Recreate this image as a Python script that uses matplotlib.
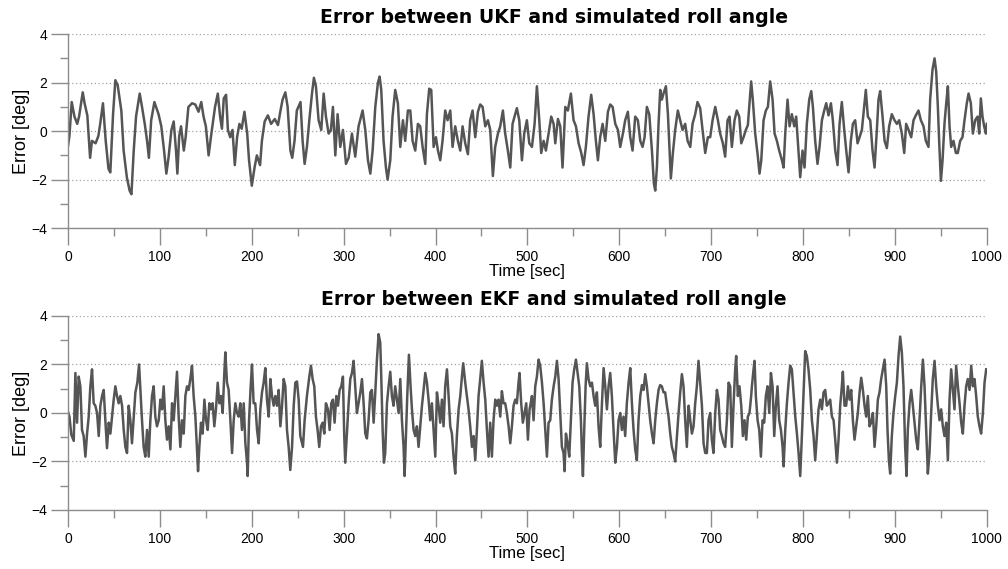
import matplotlib.pyplot as plt
from matplotlib.ticker import MultipleLocator

# values (time in s, error in deg)
ukf_time = [
    # 0 - 253 s
    0, 1.5, 4, 7, 10, 12, 16, 18, 21, 24,
    26, 30, 33, 35, 38, 41, 44, 46, 49, 51.5,
    54, 58, 60.5, 64, 67, 69, 71.5, 74, 78, 80.5,
    83.5, 86, 88, 90.5, 94, 98.5, 101.5, 104.5, 107, 109.5,
    112.5, 115, 117.5, 119, 121, 123, 126, 128, 131, 135,
    138.5, 142, 145, 147.5, 150, 153, 156, 158.5, 160, 163,
    165.5, 167.5, 169.5, 172, 174, 176.5, 179, 181.5, 184, 186.5,
    189, 192, 195, 197, 200, 203, 205.5, 209, 211, 214,
    217.5, 221, 225, 228.5, 231, 233.5, 236.5, 239, 242, 244,
    246.5, 249, 253,
    # 255 - 502 s
    255.3, 257.5, 260, 262.6, 265.5, 267.6, 269.8, 272.7, 275.6, 278.2,
    280.7, 283.6, 286.1, 288.3, 290.9, 293.4, 296.3, 299.2, 302.5, 305.4,
    309, 312.6, 316.2, 320.6, 323.5, 326.4, 329, 331.5, 334.4, 337.3,
    339.1, 340.9, 343.4, 346, 347.8, 350.7, 353.2, 356.1, 359, 361.6,
    364.5, 367, 369.9, 372.5, 375, 377.9, 380.8, 383.3, 385.9, 388.8,
    390.6, 393.1, 395.3, 397.9, 400.4, 402.6, 405.1, 407.6, 410.5, 413.1,
    416, 418.5, 421.4, 424.3, 426.9, 429.4, 432.3, 435.2, 437.7, 440.3,
    443.2, 446.1, 448.6, 451.2, 454.1, 457, 459.5, 462.4, 464.9, 467.9,
    470.4, 473.3, 475.8, 478.7, 481.3, 483.8, 486, 488.5, 491.1, 494,
    496.5, 499.4, 502,
    # 505 - 748 s
    504.9, 507.8, 510.3, 512.9, 515, 517.6, 520.1, 523, 525.9, 528.5,
    530.3, 533.2, 535.7, 538.2, 541.2, 544, 547.3, 550.2, 552.8, 555.7,
    558.6, 561.1, 563.6, 566.5, 569.4, 572, 574.5, 576.7, 579.2, 581.8,
    584.7, 587.6, 590.1, 592.7, 595.6, 598.5, 601, 603.9, 606.4, 609.3,
    611.9, 614.4, 617.3, 620.2, 622.8, 625.3, 627.5, 630, 632.6, 635.5,
    637.6, 639.1, 640.9, 642.7, 644.5, 646.3, 648.1, 650.7, 652.9, 654.7,
    656.1, 658.3, 660.8, 663.7, 666.3, 668.8, 671.7, 674.3, 677.2, 679.7,
    682.6, 685.1, 688, 690.6, 693.5, 696.4, 698.9, 701.5, 704.4, 707.3,
    709.8, 712.7, 715.2, 717.8, 720, 722.5, 725.4, 727.9, 730.5, 732.7,
    735.2, 737.7, 739.9, 741.7, 743.5, 745.3, 747.9,
    # 751 - 1000 s
    750.8, 752.6, 754.5, 757, 759.5, 761.7, 764.2, 766.8, 769, 771.5,
    774, 777, 778.8, 780.6, 783.1, 785.3, 787.8, 790.4, 792.5, 795.1,
    796.9, 799.4, 801.6, 804.1, 806.7, 808.9, 810.7, 813.2, 815.7, 817.9,
    820.5, 823, 825.2, 827.7, 830.3, 832.4, 835, 837.5, 839.7, 842.2,
    844.8, 847, 849.5, 852, 854.2, 856.7, 859.3, 861.5, 864, 866.5,
    868.3, 870.5, 873.1, 875.6, 877.8, 880.3, 882.1, 883.9, 886.5, 888.7,
    891.2, 893.7, 896.6, 899.5, 902.1, 904.6, 907.5, 910.1, 912.2, 914.8,
    917.7, 920.2, 922.7, 925.6, 928.2, 931.1, 933.6, 936.5, 938.3, 940.9,
    943.1, 944.9, 946.7, 948.1, 950, 951.8, 953.9, 955.8, 957.6, 959.4,
    961.2, 963.7, 966.3, 968.4, 971, 973.5, 975.7, 978.2, 980.1, 982.6,
    984.8, 987.3, 989.9, 991.7, 993.5, 995.3, 997.1, 999, 1000,
]
ukf_error = [
    -0.6, -0.2, 1.2, 0.6, 0.3, 0.6, 1.6, 1.15, 0.65, -1.1,
    -0.4, -0.5, -0.2, 0.3, 1.15, -0.4, -1.55, -1.7, 0.7, 2.1,
    1.9, 0.85, -0.8, -1.9, -2.45, -2.6, -0.8, 0.6, 1.55, 1.0,
    0.3, -0.4, -1.1, 0.45, 1.2, 0.7, 0.2, -0.8, -1.75, -1.05,
    0.05, 0.4, -0.8, -1.75, -0.2, 0.2, -0.8, -0.25, 1.0, 1.15,
    1.1, 0.8, 1.2, 0.6, 0.2, -1.0, -0.1, 0.6, 1.0, 1.55,
    0.6, 0.1, 1.35, 1.5, 0.05, -0.25, 0.05, -1.4, -0.25, 0.3,
    0.1, 0.8, -0.1, -1.2, -2.25, -1.5, -1.0, -1.4, -0.4, 0.4,
    0.65, 0.3, 0.5, 0.25, 0.8, 1.3, 1.6, 1.0, -0.8, -1.1,
    -0.4, 0.85, 1.2,
    -0.4, -1.35, -0.65, 0.45, 1.55, 2.2, 1.85, 0.45, 0.05, 1.55,
    0.6, -0.1, 0.05, 1.0, -1.0, 0.7, -0.65, 0.05, -1.35, -1.1,
    -0.1, -1.05, 0.2, 0.85, 0.05, -1.2, -1.75, -0.8, 1.0, 2.0,
    2.25, 1.7, -0.4, -1.5, -2.0, -1.2, 0.6, 1.7, 1.15, -0.65,
    0.45, -0.4, 0.85, 0.85, -0.4, -0.8, 0.3, 0.2, -0.65, -1.35,
    0.7, 1.75, 1.7, -0.65, -0.25, -0.8, -1.2, -0.4, 0.85, 0.45,
    0.85, -0.65, 0.2, -0.4, -0.8, 0.2, -0.5, -0.95, 0.45, 0.85,
    -0.25, 0.8, 1.1, 1.0, 0.2, 0.45, 0.05, -1.85, -0.65, -0.1,
    0.2, 0.85, -0.1, -0.8, -1.5, 0.3, 0.6, 0.95, 0.45, -1.2,
    -0.1, 0.45, -0.5,
    -0.65, 0.3, 1.85, 0.45, -0.9, -0.4, -0.8, -0.1, 0.6, 0.3,
    -0.5, 0.5, 0.2, -1.5, 1.0, 0.85, 1.55, 0.45, 0.2, -0.5,
    -0.9, -1.4, -0.65, 0.6, 1.5, 0.7, -0.4, -1.2, -0.25, 0.3,
    -0.4, 0.8, 1.1, 1.0, 0.3, 0.05, -0.65, -0.1, 0.45, 0.8,
    -0.25, -0.8, 0.6, 0.45, -0.4, -0.65, -0.25, 1.0, 0.7, -0.8,
    -2.15, -2.45, -1.5, 0.3, 1.7, 1.3, 1.55, 1.85, 0.7, -0.8,
    -1.95, -0.9, 0.05, 0.85, 0.45, 0.05, 0.3, -0.4, -0.65, 0.3,
    0.7, 1.2, 0.95, 0.05, -0.9, -0.25, -0.25, 0.45, 1.0, 0.45,
    -0.1, -0.5, -1.05, 0.45, 0.6, -0.65, 0.45, 0.85, 0.6, -0.5,
    -0.25, 0.05, 0.25, 1.15, 2.05, 1.3, -0.1,
    -1.05, -1.75, -1.2, 0.45, 0.85, 1.0, 2.05, 1.3, -0.1, -0.4,
    -0.8, -1.2, -1.5, -0.1, 1.3, 0.2, 0.7, 0.2, 0.6, -0.9,
    -1.9, -0.8, -1.5, 0.3, 1.3, 1.65, 1.0, -0.4, -1.35, -0.65,
    0.45, 0.85, 1.15, 0.65, 1.15, 0.45, -0.8, -1.4, 0.3, 1.2,
    0.05, -0.8, -1.7, -0.4, 0.3, 0.45, -0.5, -0.25, 0.05, 1.0,
    1.7, 0.6, 0.45, -0.8, -1.5, 0.05, 1.3, 1.65, 0.6, -0.4,
    -0.7, 0.2, 0.7, 0.45, 0.3, 0.45, -0.1, -0.9, 0.3, 0.05,
    -0.25, 0.45, 0.65, 0.85, 0.45, 0.2, -0.4, -0.65, 1.3, 2.55,
    3.0, 2.45, 1.0, -0.4, -2.05, -1.2, 0.3, 1.15, 1.85, 0.2,
    -0.65, -0.4, -0.9, -0.9, -0.4, -0.25, 0.45, 1.15, 1.55, 1.15,
    -0.1, 0.45, 0.6, -0.1, 1.35, 0.6, 0.2, -0.1, 0.3,
]

ekf_time = [
    # 0 - 253 s
    0, 1.5, 3.6, 6.2, 8, 9.8, 11.6, 13.4, 15.2, 17,
    18.9, 20.7, 22.5, 24.3, 26.1, 27.9, 29.7, 31.6, 33.4, 35.2,
    37, 38.8, 40.6, 42.4, 44.3, 46.1, 47.9, 49.7, 51.5, 53.3,
    55.1, 56.9, 58.8, 60.6, 62.4, 64.2, 66, 67.8, 69.6, 71.5,
    73.3, 75.4, 77.3, 79.1, 80.5, 82.3, 84.1, 86, 87.8, 89.6,
    91.4, 93.2, 95, 96.8, 98.7, 100.5, 102.3, 104.1, 105.9, 107.7,
    109.5, 111.4, 113.2, 115, 116.8, 118.6, 120.4, 122.2, 124, 125.9,
    127.7, 129.5, 131.3, 133.1, 134.9, 136.7, 138.6, 140.4, 141.5, 142.9,
    144.7, 146.5, 148.4, 150.2, 152, 153.8, 155.6, 157.4, 159.2, 161,
    162.9, 164.7, 166.5, 168.3, 170.1, 171.2, 173, 174.8, 176.7, 178.5,
    180.3, 182.1, 183.9, 185.7, 187.5, 189.3, 191.2, 193, 194.8, 195.5,
    197, 198.8, 200.2, 202, 203.8, 205.7, 207.5, 209.3, 211.1, 212.9,
    214.7, 216.5, 218.4, 220.2, 222, 223.8, 225.6, 227.4, 229.2, 231.1,
    232.9, 234.7, 236.5, 238.3, 240.1, 241.9, 243.8, 245.6, 247.4, 249.2,
    251, 252.8,
    # 256 - 502 s
    255.7, 257.5, 260, 262.6, 264.4, 266.2, 268, 269.8, 271.6, 273.4,
    275.3, 277.1, 278.9, 280.7, 282.9, 284.7, 286.5, 288.3, 290.1, 292,
    293.8, 295.6, 297.4, 299.2, 300.6, 301.7, 303.5, 305.4, 307.2, 309,
    310.8, 312.6, 314.4, 316.2, 318.1, 319.9, 321.7, 323.5, 325.3, 327.1,
    329, 330.7, 332.6, 334.4, 336.2, 338, 339.8, 340.9, 342.4, 343.8,
    345.2, 347.1, 348.9, 350.7, 352.5, 354.3, 356.1, 358, 359.8, 361.6,
    363.4, 365.2, 366.3, 367.7, 369.2, 371, 372.8, 374.3, 376.1, 377.9,
    379.7, 381.5, 383.3, 385.2, 387, 388.8, 390.6, 392.4, 394.2, 396,
    397.9, 399.7, 401.5, 403.3, 405.1, 406.9, 408.7, 410.5, 412.4, 414.2,
    416, 417.8, 419.6, 421.4, 423.2, 425.1, 426.9, 428.7, 430.1, 432.3,
    434.1, 435.9, 437.7, 439.6, 441.4, 443.2, 445, 446.8, 448.6, 450.4,
    452.3, 454.1, 455.9, 457.7, 459.5, 461.3, 463.1, 465, 466.8, 468.6,
    470.4, 472.2, 474, 475.8, 477.6, 479.5, 481.3, 483.1, 484.9, 486.7,
    488.5, 490.3, 491.4, 493.2, 495, 496.9, 498.7, 500.5, 502.3,
    # 503 - 744 s
    503.1, 504.9, 506.7, 508.5, 510.3, 512.1, 513.9, 515.8, 517.6, 519.4,
    521.2, 523, 524.8, 526.6, 528.5, 530.3, 532.1, 533.9, 535.7, 537.5,
    539.3, 540.4, 541.9, 543.7, 545.5, 547.3, 549.1, 550.9, 552.8, 554.6,
    556.4, 558.2, 559.3, 560.4, 561.8, 563.3, 564.7, 566.5, 568.4, 570.2,
    572, 573.8, 575.6, 577.4, 579.2, 581, 582.9, 584.7, 586.5, 588.3,
    590.1, 591.9, 593.7, 595.6, 597.4, 599.2, 601, 602.8, 604.6, 606.4,
    608.2, 610.1, 611.9, 613.7, 615.5, 617.3, 619.1, 620.9, 622.8, 624.6,
    626.4, 628.2, 630, 631.8, 633.6, 635.5, 637.3, 639.1, 640.9, 642.7,
    644.5, 646.3, 648.1, 649.9, 651.8, 653.6, 655.4, 657.2, 659, 660.8,
    662.7, 664.5, 666.3, 668.1, 669.9, 671.7, 673.5, 675.4, 677.2, 679,
    680.8, 682.6, 684.4, 686.2, 688, 689.9, 691.7, 693.5, 695.3, 697.1,
    698.9, 700.7, 702.5, 704.4, 706.2, 708, 709.8, 711.6, 713.4, 715.2,
    717.1, 718.9, 720.7, 722.5, 724.3, 726.1, 727.2, 729, 730.8, 732.7,
    734.5, 736.3, 738.1, 739.9, 741.7, 743.5,
    # 744 - 1000 s
    744.3, 746.1, 747.2, 748.6, 750.5, 752.3, 754.1, 755.9, 757.7, 759.5,
    761.3, 763.2, 765, 766.8, 768.6, 770.4, 772.2, 774, 775.9, 777.7,
    778.8, 780.6, 782.4, 784.2, 786, 787.8, 789.6, 791.5, 793.3, 795.1,
    796.9, 798.7, 800.5, 802.3, 804.1, 805.9, 807.8, 809.6, 811.4, 813.2,
    815, 816.8, 818.7, 820.5, 822.3, 824.1, 825.9, 827.7, 829.5, 831.4,
    833.2, 835, 836.8, 838.6, 840.4, 842.2, 843.3, 845.1, 846.9, 848.8,
    850.6, 852.4, 854.2, 856, 857.8, 859.6, 861.5, 863.3, 865.1, 866.9,
    868.7, 870.5, 872.3, 874.1, 876, 877.8, 879.6, 881.4, 883.2, 885,
    886.8, 888.7, 890.5, 891.9, 893.4, 894.8, 896.6, 898.4, 900.3, 902.1,
    903.9, 905.7, 907.5, 909.3, 911.1, 912.6, 914, 915.9, 917.7, 919.5,
    921.3, 923.1, 924.9, 926.7, 928.6, 930.4, 932.2, 934, 935.8, 937.6,
    939.4, 941.2, 943.1, 944.9, 946.7, 948.5, 950.3, 952.1, 953.9, 955.8,
    957.6, 959.4, 961.2, 963, 964.8, 966.6, 968.5, 970.3, 972.1, 973.9,
    975.7, 977.5, 979.3, 981.2, 983, 984.8, 986.6, 988.4, 990.2, 992,
    993.8, 995.7, 997.5, 999.3,
]
ekf_error = [
    0.05, -0.15, -0.9, -1.15, 1.65, -0.4, 1.5, 1.1, -0.7, -0.95,
    -1.8, -0.85, -0.15, 1.1, 1.8, 0.4, 0.3, 0.0, -0.95, 0.3,
    0.7, 0.95, -0.3, -1.45, -0.4, -0.85, -0.15, 0.55, 1.1, 0.7,
    0.4, 0.7, 0.3, -0.7, -1.4, -1.65, 0.3, -0.3, -1.25, -0.15,
    0.85, 1.25, 2.0, 0.7, -0.3, -1.4, -1.8, -0.7, -1.8, -0.3,
    0.7, 1.1, -0.15, -0.55, -0.3, 0.55, 0.15, 1.1, -0.3, -1.1,
    -0.55, -1.5, 0.4, -0.3, 0.7, 1.7, -0.15, -1.4, -0.3, -0.85,
    0.7, 1.1, 0.95, 1.4, 1.95, 0.7, -0.15, -1.5, -2.4, -1.4,
    -0.4, -0.85, 0.55, -0.3, -0.7, 0.4, 0.15, 0.4, -0.55, 0.15,
    1.25, 0.4, 0.7, 0.0, 1.65, 2.5, 1.25, 0.95, -0.3, -1.65,
    -0.3, 0.4, 0.0, -0.15, 0.4, -0.7, 0.4, -1.25, -2.05, -2.6,
    -0.3, 1.1, 2.0, 0.4, 0.4, -0.7, -1.25, 0.15, 0.85, 1.25,
    1.85, 0.55, -0.15, 1.4, 0.7, 0.3, 0.7, 0.3, 0.95, -0.55,
    0.3, 1.4, 1.1, -0.7, -1.4, -2.35, -1.4, 0.3, 1.25, 1.3,
    0.55, -0.95,
    -1.4, -0.3, 0.7, 1.5, 1.95, 1.4, 1.1, -0.15, -0.7, -1.4,
    -0.55, -0.4, -0.85, 0.4, 0.15, -0.7, 0.4, 0.55, -0.4, 0.7,
    0.3, 0.95, 1.1, 1.5, -0.95, -2.05, -0.85, 0.4, 1.4, 1.65,
    2.15, 1.1, 0.0, 0.4, 0.85, 1.4, 0.4, -0.85, -1.05, -0.3,
    0.85, 0.95, -0.4, 0.85, 2.2, 3.25, 2.9, 1.5, -0.7, -2.05,
    -1.65, 0.4, 1.1, 1.7, 0.7, 0.3, 1.1, 0.55, 0.0, 1.4,
    -0.3, -1.4, -2.6, -0.95, 0.7, 2.4, 1.1, 0.15, -0.7, -0.95,
    -0.55, -1.4, -0.55, 0.3, 0.95, 1.65, 1.25, 0.55, -0.3, 0.4,
    -0.7, -1.8, 0.85, 0.3, -0.4, 0.55, -0.55, 1.1, 1.8, 0.7,
    -0.55, -0.85, -1.8, -2.5, -0.95, 0.15, 0.7, 1.5, 2.05, 1.25,
    0.7, 0.15, -0.55, -1.4, -0.95, -1.95, -0.7, 0.7, 1.4, 2.15,
    1.25, 0.55, -0.7, -1.8, -0.4, -1.8, -0.3, 0.55, 0.3, 0.55,
    -0.15, 0.9, 0.4, 0.4, 0.0, -0.55, -1.25, -0.55, 0.3, 0.55,
    0.4, 1.25, 1.65, 0.4, -0.4, 0.0, 0.4, -1.1, 0.15,
    0.3, 0.7, -0.3, 1.1, 1.5, 2.2, 1.95, 1.25, 0.4, -0.7,
    -1.8, -0.4, -0.3, 0.55, 1.1, 1.5, 2.15, 1.4, 0.0, -1.4,
    -1.65, -2.4, -0.85, -1.25, -1.8, -0.3, 1.25, 1.8, 2.2, 1.65,
    1.1, -0.3, -1.65, -2.6, -0.7, 1.1, 2.05, 1.4, 1.1, 1.25,
    0.7, 0.3, 0.85, -0.55, -1.4, 0.3, 1.85, 1.1, 0.15, 1.1,
    1.65, 0.7, -0.7, -2.05, -1.4, -0.3, 0.0, -0.7, -0.15, -0.95,
    0.4, 1.25, 1.85, 0.4, -0.7, -1.5, -1.95, -0.3, 0.7, 1.15,
    0.95, 1.6, 1.1, 0.4, -0.3, -0.85, -1.25, -0.3, 0.4, 0.95,
    1.15, 1.1, 0.85, 0.85, 0.3, -0.15, -0.85, -1.4, -1.65, -2.0,
    -0.95, 0.0, 0.85, 1.6, 1.1, -0.3, -1.4, 0.3, -0.3, -0.85,
    -0.55, 0.4, 1.1, 2.15, 1.25, 0.3, -1.25, -1.65, -1.65, -0.3,
    0.0, -1.1, -1.65, 0.0, 0.95, 0.55, -0.7, -0.95, -1.25, -1.4,
    -0.3, 1.25, 1.1, -1.4, 0.3, 1.8, 2.35, 0.7, 1.1, 0.3,
    -0.95, -0.3, -1.1, -0.15, 0.0, 0.7,
    1.1, 1.8, 2.15, 0.7, -0.3, -0.7, -1.8, -0.3, -0.4, 0.7,
    1.1, 0.0, 1.65, 1.1, -0.95, 0.3, 1.1, -0.3, -0.7, -1.4,
    -2.2, -0.7, 0.4, 1.25, 1.95, 1.8, 0.85, -0.15, -0.85, -1.65,
    -2.6, -0.95, 0.85, 2.55, 2.35, 1.8, 0.95, -0.3, -0.95, -1.95,
    -0.95, 0.15, 0.55, 0.15, 0.85, 0.95, 0.3, 0.4, 0.55, -0.15,
    -0.3, -1.1, -2.05, -1.1, 0.3, 1.1, 1.7, 0.3, 0.3, 1.1,
    0.55, 0.95, -0.3, -1.1, -0.55, 0.0, 0.85, 1.45, 0.95, 0.3,
    -0.15, 0.7, -0.55, -0.4, 0.0, -1.4, -0.55, 0.55, 0.85, 1.4,
    1.8, 2.2, 1.1, -0.7, -1.95, -2.5, -0.95, 0.0, 0.7, 1.25,
    2.35, 3.15, 2.5, 1.1, -1.4, -2.6, -0.7, 0.4, 0.95, 0.3,
    -0.4, -1.1, -1.5, -0.3, 1.1, 2.2, 1.1, -0.7, -2.5, -1.65,
    0.0, 1.4, 2.15, 1.1, 0.3, -0.3, 0.15, -0.55, -0.95, -0.4,
    -1.95, 0.55, 1.8, 0.95, 0.15, 1.95, 1.1, 0.4, -0.4, -0.85,
    0.3, 1.1, 1.4, 0.95, 1.95, 1.1, 1.4, 0.7, -0.15, -0.55,
    -0.85, 0.0, 1.25, 1.8,
]

titles = ["Error between UKF and simulated roll angle",
          "Error between EKF and simulated roll angle"]

plt.rcParams['font.family'] = ['Liberation Sans', 'DejaVu Sans']

axis_grey = '#8c8c8c'
line_grey = '#555555'

fig = plt.figure(figsize=(10.08, 5.69), dpi=100)
ax_top = fig.add_axes([0.0675, 0.599, 0.9115, 0.341])
ax_bot = fig.add_axes([0.0675, 0.1037, 0.9115, 0.341])


def style_axes(ax, title):
    ax.set_xlim(0, 1000)
    ax.set_ylim(-4, 4)
    for side in ['top', 'right']:
        ax.spines[side].set_visible(False)
    for side in ['left', 'bottom']:
        ax.spines[side].set_color(axis_grey)
        ax.spines[side].set_linewidth(1.0)
    ax.xaxis.set_major_locator(MultipleLocator(100))
    ax.xaxis.set_minor_locator(MultipleLocator(50))
    ax.yaxis.set_major_locator(MultipleLocator(2))
    ax.yaxis.set_minor_locator(MultipleLocator(1))
    ax.tick_params(which='major', direction='out', length=12, width=1,
                   color=axis_grey, labelsize=10)
    ax.tick_params(which='minor', direction='out', length=6, width=1,
                   color=axis_grey)
    ax.tick_params(axis='x', which='major', pad=4)
    ax.tick_params(axis='y', which='major', pad=3)
    ax.grid(axis='y', which='major', color='#a0a0a0',
            linestyle=(0, (1, 2)), linewidth=0.9)
    ax.set_axisbelow(True)
    # the title in the picture sits a bit right of the axes centre
    ttl = ax.set_title(title, fontsize=13.6, fontweight='bold', pad=8,
                       family='DejaVu Sans')
    ttl.set_x(0.529)
    ax.set_xlabel("Time [sec]", fontsize=12, labelpad=0)
    ax.set_ylabel("Error [deg]", fontsize=13, labelpad=1)


ax_top.plot(ukf_time, ukf_error, color=line_grey, linewidth=1.8)
ax_bot.plot(ekf_time, ekf_error, color=line_grey, linewidth=1.8)
style_axes(ax_top, titles[0])
style_axes(ax_bot, titles[1])

fig.savefig("out.png", dpi=100)
